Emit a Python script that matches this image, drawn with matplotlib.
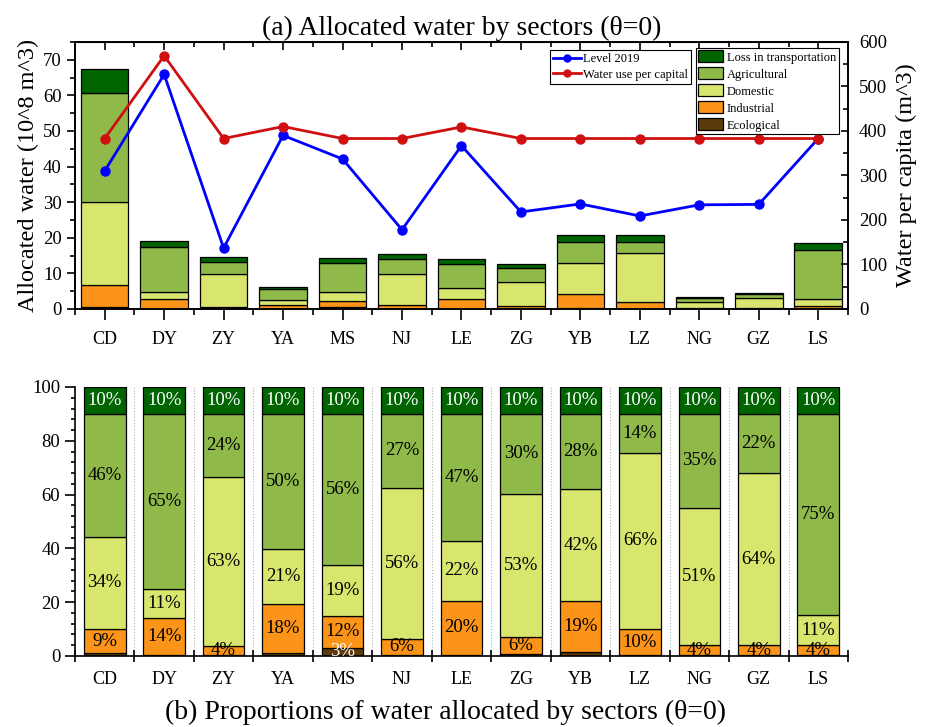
import numpy as np
import matplotlib
matplotlib.use("Agg")
import matplotlib.pyplot as plt
from matplotlib.patches import Patch
from matplotlib.lines import Line2D

plt.rcParams['font.family'] = ['Liberation Serif', 'DejaVu Serif']

# ---- data ----
cities = ['CD', 'DY', 'ZY', 'YA', 'MS', 'NJ', 'LE', 'ZG', 'YB', 'LZ', 'NG', 'GZ', 'LS']
total = [67.5, 19.2, 14.7, 6.1, 14.3, 15.5, 14.1, 12.7, 20.9, 20.9, 3.4, 4.6, 18.5]

# shares of each sector (%)
eco = [1.0, 0.3, 0.2, 1.0, 3.1, 0.3, 0.3, 0.7, 1.4, 0.2, 0.4, 0.3, 0.3]
ind = [9.0, 13.8, 3.6, 18.2, 11.7, 6.1, 20.3, 6.3, 18.9, 9.8, 3.6, 3.7, 3.6]
dom = [34.4, 10.9, 62.6, 20.7, 19.1, 56.2, 22.1, 53.2, 41.6, 65.6, 51.0, 64.0, 11.3]
agr = [45.6, 65.0, 23.6, 50.1, 56.1, 27.4, 47.3, 29.8, 28.1, 14.4, 35.0, 22.0, 74.8]
loss = [10.0] * 13

level2019 = [310, 527, 137, 390, 337, 178, 367, 218, 236, 209, 234, 235, 383]
per_capita = [383, 569, 383, 410, 383, 383, 409, 383, 383, 383, 383, 383, 383]

sectors = ['Ecological', 'Industrial', 'Domestic', 'Agricultural', 'Loss in transportation']
shares = [eco, ind, dom, agr, loss]
colors = ['#5c3a0a', '#fb9418', '#d9e66e', '#8fba4a', '#006400']
txtcol = ['white', 'black', 'black', 'black', 'white']

x = np.arange(len(cities))
tot = np.array(total)

fig = plt.figure(figsize=(9.3, 7.27), dpi=100)
ax = fig.add_axes([0.0806, 0.575, 0.8312, 0.3673])
ax2 = ax.twinx()

# ---- (a) stacked absolute values ----
bottom = np.zeros(len(cities))
for name, sh, c in zip(sectors, shares, colors):
    vals = tot * np.array(sh) / 100
    ax.bar(x, vals, 0.8, bottom=bottom, color=c, edgecolor='black', linewidth=0.9, zorder=2)
    bottom += vals

ax2.plot(x, level2019, '-o', color='#0000ff', lw=2, ms=6.5, zorder=3)
ax2.plot(x, per_capita, '-o', color='#d01010', lw=2, ms=6.5, zorder=3)

ax.set_xlim(-0.5, len(cities) - 0.5)
ax.set_ylim(0, 75)
ax2.set_ylim(0, 600)
ax.set_xticks(x)
ax.set_xticklabels(cities, fontsize=13)
ax.set_xticks(np.arange(-0.5, len(cities)), minor=True)
ax.set_yticks(np.arange(0, 71, 10))
ax.set_yticks(np.arange(0, 76, 5), minor=True)
ax.tick_params(axis='x', which='major', direction='out', length=8, width=1.2, pad=8)
ax.tick_params(axis='x', which='minor', direction='out', length=4, width=1.2)
ax.tick_params(axis='y', which='major', direction='out', length=6, width=1.2, labelsize=13.5)
ax.tick_params(axis='y', which='minor', direction='out', length=3.5, width=1.2)
ax2.set_yticks(np.arange(0, 601, 100))
ax2.set_yticks(np.arange(0, 601, 50), minor=True)
ax2.tick_params(axis='y', which='major', direction='in', length=5, width=1.2, labelsize=13.5, pad=8)
ax2.tick_params(axis='y', which='minor', direction='in', length=3.5, width=1.2)

top = ax.secondary_xaxis('top')
top.set_xticks(x)
top.set_xticks(np.arange(-0.5, len(cities)), minor=True)
top.set_xticklabels([])
top.tick_params(which='major', direction='in', length=6, width=1.2)
top.tick_params(which='minor', direction='in', length=3.5, width=1.2)

for a in (ax, ax2):
    for s in a.spines.values():
        s.set_linewidth(1.2)

ax.set_ylabel('Allocated water (10^8 m^3)', fontsize=17.5, labelpad=3)
ax2.set_ylabel('Water per capita (m^3)', fontsize=17.5, labelpad=6)
ax.set_title('(a) Allocated water by sectors (θ=0)', fontsize=20, pad=5)

line_handles = [Line2D([], [], color='#0000ff', marker='o', lw=2, ms=5),
                Line2D([], [], color='#d01010', marker='o', lw=2, ms=5)]
leg1 = ax2.legend(line_handles, ['Level 2019', 'Water use per capital'],
                  loc='upper left', bbox_to_anchor=(0.6145, 0.97), borderaxespad=0,
                  fontsize=9, fancybox=False, edgecolor='black', framealpha=1,
                  handlelength=2.2, handletextpad=0.2, labelspacing=0.3,
                  borderpad=0.25)
leg1.get_frame().set_linewidth(0.8)
ax2.add_artist(leg1)
patch_handles = [Patch(facecolor=c, edgecolor='black', lw=0.9) for c in colors[::-1]]
leg2 = ax2.legend(patch_handles, sectors[::-1], loc='upper right',
                  bbox_to_anchor=(0.988, 0.978), borderaxespad=0, fontsize=9,
                  fancybox=False, edgecolor='black', framealpha=1,
                  handlelength=2.0, handleheight=1.1, handletextpad=0.3,
                  labelspacing=0.3, borderpad=0.2)
leg2.get_frame().set_linewidth(0.8)

# ---- (b) proportions ----
bx = fig.add_axes([0.0806, 0.0977, 0.8312, 0.370])
bottom = np.zeros(len(cities))
for name, sh, c, tc in zip(sectors, shares, colors, txtcol):
    sh = np.array(sh)
    bx.bar(x, sh, 0.7, bottom=bottom, color=c, edgecolor='black', linewidth=0.9, zorder=2)
    for xi, b, v in zip(x, bottom, sh):
        if v >= 2.5:
            bx.text(xi, b + v / 2, f'{v:.0f}%', ha='center', va='center',
                    fontsize=13.5, color=tc, zorder=3)
    bottom += sh

for xv in np.arange(0.5, len(cities) - 1):
    bx.axvline(xv, color='#b0b0b0', ls=':', lw=0.8, zorder=1)

bx.set_xlim(-0.5, len(cities) - 0.5)
bx.set_ylim(0, 100)
bx.set_xticks(x)
bx.set_xticklabels(cities, fontsize=13)
bx.set_xticks(np.arange(-0.5, len(cities)), minor=True)
bx.tick_params(axis='x', which='major', length=0, pad=11)
bx.tick_params(axis='x', which='minor', direction='inout', length=9, width=1.2)
bx.set_yticks(np.arange(0, 101, 20))
bx.set_yticks(np.arange(0, 101, 4), minor=True)
bx.tick_params(axis='y', which='major', direction='out', length=7, width=1.2, labelsize=13.5)
bx.tick_params(axis='y', which='minor', direction='out', length=3, width=1.2)
bx.spines['top'].set_visible(False)
bx.spines['right'].set_visible(False)
bx.spines['left'].set_linewidth(1.2)
bx.spines['bottom'].set_linewidth(1.2)
bx.set_xlabel('(b) Proportions of water allocated by sectors (θ=0)', fontsize=20)
bx.xaxis.set_label_coords(0.479, -0.163)

fig.savefig('out.png', dpi=100)
